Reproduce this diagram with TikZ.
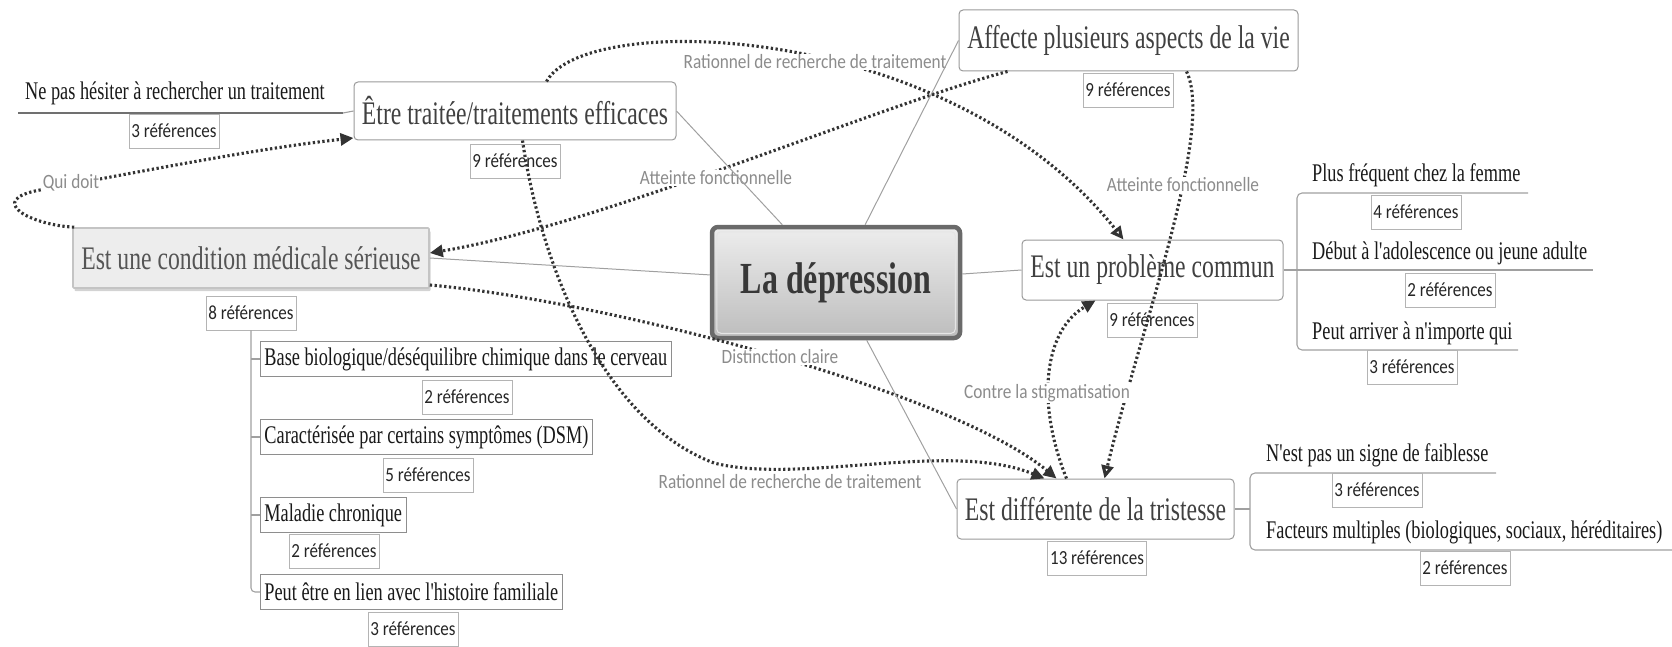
\documentclass[tikz,border=0pt]{standalone}
\usepackage{fontspec}
\usetikzlibrary{arrows.meta,shadows}
\newfontfamily\serf[FakeStretch=0.72]{Liberation Serif}
\newfontfamily\sanf[FakeStretch=0.85]{Carlito}
\definecolor{dotc}{HTML}{333333}
\definecolor{lonetxt}{HTML}{404040}
\definecolor{lonedraw}{HTML}{9A9A9A}
\definecolor{reflc}{HTML}{B4B4B4}
\definecolor{labc}{HTML}{8C8C8C}
\definecolor{linec}{HTML}{A0A0A0}
\definecolor{ulinec}{HTML}{707070}
\definecolor{ltwodraw}{HTML}{8E8E8E}
\definecolor{depdraw}{HTML}{6A6A6A}
\definecolor{deptop}{HTML}{EDEDED}
\definecolor{depbot}{HTML}{BDBDBD}
\definecolor{deptxt}{HTML}{383838}
\definecolor{condfill}{HTML}{EDEDED}
\definecolor{conddraw}{HTML}{C4C4C4}
\definecolor{condtxt}{HTML}{555555}
\begin{document}
\begin{tikzpicture}[x=1pt,y=-1pt,
 lone/.style={draw=lonedraw, line width=1pt, rounded corners=4pt, fill=white, text=lonetxt, font=\serf\fontsize{32.9}{36}\selectfont, inner sep=0pt},
 ltwo/.style={draw=ltwodraw, line width=0.9pt, fill=white, text=black!90, font=\serf\fontsize{25.4}{28}\selectfont, inner xsep=4pt, inner ysep=0pt, minimum height=35pt, anchor=west},
 uitem/.style={font=\serf\fontsize{25.4}{28}\selectfont, text=black!90, inner sep=0pt, anchor=base west},
 refbox/.style={draw=reflc, line width=0.8pt, fill=white, font=\sanf\fontsize{20}{22}\selectfont, text=black!85, inner xsep=2.5pt, inner ysep=0pt, minimum height=34pt},
 lab/.style={font=\sanf\fontsize{20.3}{22}\selectfont, text=labc, fill=white, inner sep=1pt},
 dotl/.style={draw=dotc, line width=3.1pt, dash pattern=on 2.3pt off 2.5pt},
 gline/.style={draw=linec, line width=1.1pt},
 uline/.style={draw=ulinec, line width=1.1pt},
 sline/.style={draw=linec, line width=1pt},
 tipf/.style={-{Triangle[length=13pt,width=12pt]}},
 tipo/.style={-{Triangle[open,length=13pt,width=12pt]}}
]
\useasboundingbox (0,0) rectangle (1672,647);

% level-1 nodes
\node[lone, minimum width=322pt, minimum height=58pt] (ete) at (515,111) {Être traitée/traitements efficaces};
\node[lone, minimum width=339pt, minimum height=61pt] (aff) at (1128.5,40.5) {Affecte plusieurs aspects de la vie};
\node[lone, minimum width=261pt, minimum height=60pt] (pc) at (1152.5,270) {Est un problème commun};
\node[lone, minimum width=277pt, minimum height=60pt] (diff) at (1095.5,509) {Est différente de la tristesse};
\node[lone, rounded corners=1pt, draw=conddraw, fill=condfill, text=condtxt, line width=1.6pt,
      drop shadow={shadow xshift=1.5pt, shadow yshift=-3pt, opacity=0.35},
      minimum width=356pt, minimum height=60pt] (cond) at (251,258) {Est une condition médicale sérieuse};

% centre
\node[draw=depdraw, line width=4.5pt, rounded corners=6pt, top color=deptop, bottom color=depbot,
      minimum width=248pt, minimum height=111pt, font=\serf\bfseries\fontsize{44.4}{48}\selectfont, text=deptxt] (dep) at (836,282.5) {La dépression};
\draw[white!80!gray, line width=1pt, rounded corners=4pt] ([shift={(7pt,-7pt)}]dep.north west) rectangle ([shift={(-7pt,7pt)}]dep.south east);

% level-2 boxed items
\node[ltwo] (bio) at (260,359) {Base biologique/déséquilibre chimique dans le cerveau};
\node[ltwo] (car) at (260,437) {Caractérisée par certains symptômes (DSM)};
\node[ltwo] (mal) at (260,515) {Maladie chronique};
\node[ltwo] (fam) at (260,592) {Peut être en lien avec l'histoire familiale};

% underlined items
\node[uitem] (nep) at (25,100) {Ne pas hésiter à rechercher un traitement};
\node[uitem] (pf) at (1312,182) {Plus fréquent chez la femme};
\node[uitem] (deb) at (1312,259) {Début à l'adolescence ou jeune adulte};
\node[uitem] (pa) at (1312,339) {Peut arriver à n'importe qui};
\node[uitem] (nes) at (1266,461) {N'est pas un signe de faiblesse};
\node[uitem] (fac) at (1266,538) {Facteurs multiples (biologiques, sociaux, héréditaires)};

% branch lines
\coordinate (u0) at (18,113);
\coordinate (u0e) at (343,113);
\draw[uline] (u0) -- (u0e);
\draw[gline] (u0e) -- (ete.west);

\coordinate (pb1) at (1528,193);
\coordinate (pbt) at (1297,193);
\coordinate (pbb) at (1297,350);
\coordinate (pb2) at (1518,350);
\coordinate (pm) at (1593,270);
\draw[gline, rounded corners=5pt] (pb1) -- (pbt) -- (pbb) -- (pb2);
\draw[gline] (pc.east) -- (pm);

\coordinate (db1) at (1496,473);
\coordinate (dbt) at (1250,473);
\coordinate (dbb) at (1250,550);
\coordinate (db2) at (1672,550);
\coordinate (dm) at (1250,509);
\draw[gline, rounded corners=5pt] (db1) -- (dbt) -- (dbb) -- (db2);
\draw[gline] (diff.east) -- (dm);

% reference boxes
\node[refbox] (r3a) at (174,131) {3 références};
\node[refbox] (r9e) at (515,161) {9 références};
\node[refbox] (r8) at (251,313) {8 références};
\node[refbox] (r2b) at (467,397) {2 références};
\node[refbox] (r5) at (428,475) {5 références};
\node[refbox] (r2m) at (334,551) {2 références};
\node[refbox] (r3p) at (413,629) {3 références};
\node[refbox] (r9a) at (1128,90) {9 références};
\node[refbox] (r9p) at (1152,320) {9 références};
\node[refbox] (r4) at (1416,212) {4 références};
\node[refbox] (r2d) at (1450,290) {2 références};
\node[refbox] (r3q) at (1412,367) {3 références};
\node[refbox] (r13) at (1097,558) {13 références};
\node[refbox] (r3n) at (1377,490) {3 références};
\node[refbox] (r2f) at (1465,568) {2 références};

\draw[gline, rounded corners=4pt] (r8.south) |- (fam.west);
\draw[gline] (bio.west -| r8.south) -- (bio.west);
\draw[gline] (car.west -| r8.south) -- (car.west);
\draw[gline] (mal.west -| r8.south) -- (mal.west);

% dotted relations
\draw[dotl, tipo] ([xshift=193pt]ete.north west) .. controls (585,10) and (950,20) .. ([xshift=102pt]pc.north west);
\draw[dotl, tipf] ([xshift=49pt]aff.south west) .. controls (880,105) and (600,225) .. ([yshift=5pt]cond.east);
\draw[dotl, tipf] ([xshift=169pt]ete.south west) .. controls (540,260) and (600,420) .. (714,463) .. controls (800,485) and (950,440) .. ([xshift=88pt]diff.north west);
\draw[dotl, tipf] ([yshift=-27pt]cond.east) .. controls (600,300) and (950,390) .. ([xshift=100pt]diff.north west);
\draw[dotl, tipf] ([xshift=110pt]diff.north west) .. controls (1035,400) and (1045,330) .. ([xshift=74pt]pc.south west);
\draw[dotl, tipo] ([xshift=228pt]aff.south west) .. controls (1215,130) and (1140,330) .. ([xshift=148pt]diff.north west);
\draw[dotl, tipf] ([xshift=2pt]cond.north west) .. controls (30,225) and (-15,200) .. (40,190) .. controls (150,170) and (260,148) .. ([yshift=-27pt]ete.west);

% relation labels
\node[lab] (lq) at (71,183) {Qui doit};
\node[lab] (la1) at (716,178) {Atteinte fonctionnelle};
\node[lab] (la2) at (1183,185) {Atteinte fonctionnelle};
\node[lab] (lr1) at (815,62) {Rationnel de recherche de traitement};
\node[lab] (lr2) at (790,482) {Rationnel de recherche de traitement};
\node[lab] (ld) at (780,357) {Distinction claire};
\node[lab] (lc) at (1047,393) {Contre la stigmatisation};

% solid links from the centre
\draw[sline] (ete.east) -- (dep);
\draw[sline] (aff.west) -- (dep);
\draw[sline] (cond.east) -- (dep);
\draw[sline] (pc.west) -- (dep);
\draw[sline] (diff.west) -- (dep);
\end{tikzpicture}
\end{document}
